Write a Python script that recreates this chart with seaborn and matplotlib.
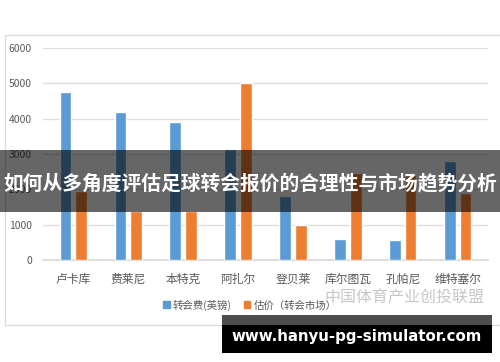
import matplotlib
matplotlib.use("Agg")
import matplotlib.pyplot as plt
from matplotlib.patches import Rectangle
from matplotlib.lines import Line2D
import seaborn as sns
import pandas as pd

categories = ['卢卡库', '费莱尼', '本特克', '阿扎尔', '登贝莱', '库尔图瓦', '孔帕尼', '维特塞尔']
fee_values = [4750, 4200, 3900, 3150, 1800, 600, 560, 2800]
market_values = [1950, 1400, 1400, 5000, 1000, 2450, 2400, 1900]
series_names = ['转会费(英镑)', '估价（转会市场）']
y_ticks = [0, 1000, 2000, 3000, 4000, 5000, 6000]
banner_text = '如何从多角度评估足球转会报价的合理性与市场趋势分析'
watermark_text = '中国体育产业创投联盟'
url_text = 'www.hanyu-pg-simulator.com'

sns.set_theme(style='white')
plt.rcParams['font.family'] = ['Noto Sans CJK SC', 'DejaVu Sans']

df = pd.DataFrame({
    'cat': categories * 2,
    'val': fee_values + market_values,
    'series': [series_names[0]] * len(categories) + [series_names[1]] * len(categories),
})

W, H = 500, 362
fig = plt.figure(figsize=(5, 3.62), dpi=100)
fig.patch.set_facecolor('white')
ax = fig.add_axes([43 / W, 1 - 260 / H, (488 - 43) / W, (260 - 48) / H])

palette = {series_names[0]: '#5b9bd5', series_names[1]: '#ed7d31'}
sns.barplot(data=df, x='cat', y='val', hue='series', palette=palette,
            width=0.56, gap=0.23, saturation=1, ax=ax, legend=False, zorder=3)

ax.set_ylim(0, 6000)
ax.set_yticks(y_ticks)
ax.set_yticklabels([str(t) for t in y_ticks])
ax.set_xlim(-0.55, len(categories) - 0.45)
ax.grid(axis='y', color='#dedede', linewidth=1, zorder=0)
ax.set_axisbelow(True)
for s in ['top', 'right', 'left']:
    ax.spines[s].set_visible(False)
ax.spines['bottom'].set_color('#d9d9d9')
ax.set_xlabel('')
ax.set_ylabel('')
ax.tick_params(axis='y', length=0, pad=8, labelsize=7.5, labelcolor='#595959')
ax.tick_params(axis='x', length=0, pad=9, labelsize=8.5, labelcolor='#595959')

# chart border
fig.add_artist(Line2D([5 / W, 1], [1 - 35 / H, 1 - 35 / H], color='#dcdcdc', lw=1))
fig.add_artist(Line2D([5 / W, 5 / W], [1 - 35 / H, 1 - 325 / H], color='#dcdcdc', lw=1))
fig.add_artist(Line2D([5 / W, 1], [1 - 325 / H, 1 - 325 / H], color='#dcdcdc', lw=1))

# legend
handles = [Rectangle((0, 0), 1, 1, color=palette[n]) for n in series_names]
leg = fig.legend(handles, series_names, loc='center', bbox_to_anchor=(250 / W, 1 - 305 / H),
                 ncol=2, frameon=False, handlelength=0.6, handleheight=0.6,
                 handletextpad=0.3, columnspacing=1.2, fontsize=7.5)
for t in leg.get_texts():
    t.set_color('#595959')

# watermark
fig.text(404 / W, 1 - 298 / H, watermark_text, ha='center', va='center',
         fontsize=11.5, color='#c8c8c8', zorder=5)

# banner overlay
fig.add_artist(Rectangle((0, 1 - 212 / H), 1, 62 / H, transform=fig.transFigure,
                         facecolor='black', alpha=0.6, edgecolor='none', zorder=10))
fig.text(250 / W, 1 - 183 / H, banner_text, ha='center', va='center',
         fontsize=14.2, fontweight='bold', color='white', zorder=11)

# url box
fig.add_artist(Rectangle((222 / W, 1 - 325 / H), 270 / W, 10 / H, transform=fig.transFigure,
                         facecolor='#4d4d4d', edgecolor='none', zorder=10))
fig.add_artist(Rectangle((222 / W, 1 - 353 / H), 270 / W, 28 / H, transform=fig.transFigure,
                         facecolor='black', edgecolor='none', zorder=10))
fig.text(357 / W, 1 - 337 / H, url_text, ha='center', va='center',
         fontsize=10.8, fontweight='bold', color='white', family=['DejaVu Sans'], zorder=11)

fig.savefig('out.png', dpi=100)
